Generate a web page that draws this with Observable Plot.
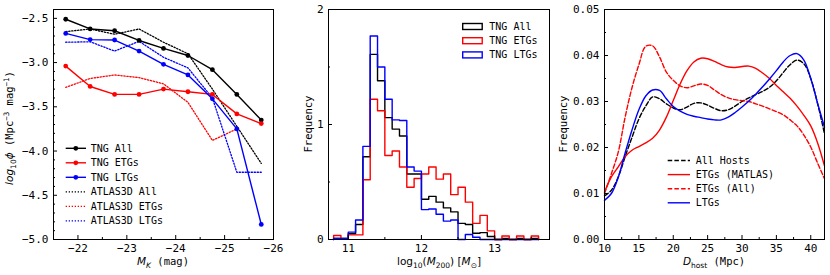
<!DOCTYPE html>
<html><head><meta charset="utf-8">
<script src="https://cdn.jsdelivr.net/npm/d3@7"></script>
<script src="https://cdn.jsdelivr.net/npm/@observablehq/plot@0.6"></script>
<style>
body{margin:0;background:#fff}
#wrap{position:relative;width:830px;height:275px;overflow:hidden;background:#fff}
#wrap svg{position:absolute;top:0}
</style></head><body><div id="wrap"></div>
<script>
// ---------- Panel 1: luminosity function ----------
const magK = [-21.75,-22.25,-22.75,-23.25,-23.75,-24.25,-24.75,-25.25,-25.75];
const tngAll = [-2.51,-2.62,-2.64,-2.75,-2.84,-2.92,-3.08,-3.36,-3.65];
const tngETG = [-3.04,-3.27,-3.36,-3.36,-3.30,-3.33,-3.36,-3.58,-3.69];
const tngLTG = [-2.67,-2.74,-2.745,-2.87,-3.02,-3.14,-3.41,-3.75,-4.83];
const atlasAll = [-2.65,-2.62,-2.68,-2.62,-2.77,-2.90,-3.30,-3.72,-4.14];
const atlasETG = [-3.28,-3.18,-3.14,-3.17,-3.24,-3.45,-3.88,-3.75,null];
const atlasLTG = [-2.77,-2.765,-2.87,-2.76,-2.94,-3.06,-3.40,-4.24,-4.24];
const lfSeries = ["TNG All","TNG ETGs","TNG LTGs","ATLAS3D All","ATLAS3D ETGs","ATLAS3D LTGs"];
const magTicks = [-22,-23,-24,-25,-26];
const phiTicks = [-2.5,-3.0,-3.5,-4.0,-4.5,-5.0];

// ---------- Panel 2: halo mass histograms ----------
const massEdges = [10.8,10.9,11.0,11.1,11.2,11.3,11.4,11.5,11.6,11.7,11.8,11.9,12.0,12.1,12.2,12.3,12.4,12.5,12.6,12.7,12.8,12.9,13.0,13.1,13.2,13.3,13.4,13.5,13.6];
const histAll = [0.01,0.01,0.05,0.13,0.72,1.61,1.38,1.06,0.96,0.90,0.57,0.57,0.35,0.375,0.325,0.275,0.24,0.14,0.13,0.055,0.06,0.026,0,0.01,0,0.01,0,0.01];
const histETG = [0.035,0.005,0.04,0.04,0.52,1.22,1.12,0.73,0.77,0.63,0.455,0.53,0.57,0.63,0.525,0.57,0.39,0.455,0.325,0.14,0.21,0.075,0,0.03,0,0.03,0,0.03];
const histLTG = [0.01,0.01,0.064,0.17,0.81,1.77,1.50,1.22,1.04,1.035,0.63,0.595,0.26,0.265,0.22,0.16,0.17,0,0.043,0.02,0,0,0,0,0,0,0,0];
const histSeries = ["TNG All","TNG ETGs","TNG LTGs"];
const massTicks = [11,12,13];
const freqTicks = [0,1,2];

// ---------- Panel 3: host distance KDEs ----------
const dist = [10,11,12,13,14,15,16,17,18,19,20,21,22,23,24,25,26,27,28,29,30,31,32,33,34,35,36,37,38,39,40,41,42];
const kdeAll = [0.0095,0.0107,0.0136,0.018,0.0222,0.0262,0.029,0.031,0.0306,0.0295,0.0286,0.0282,0.0288,0.0296,0.0297,0.0292,0.0285,0.028,0.0282,0.029,0.0300,0.0308,0.0315,0.0322,0.0331,0.0345,0.0363,0.038,0.039,0.0382,0.035,0.0295,0.023];
const kdeETGm = [0.0103,0.0136,0.0158,0.018,0.0194,0.0202,0.021,0.022,0.0238,0.0266,0.0302,0.0338,0.0367,0.0386,0.0394,0.0393,0.0387,0.038,0.0375,0.0374,0.0376,0.0377,0.0372,0.0362,0.035,0.0335,0.0321,0.0307,0.029,0.027,0.0247,0.021,0.016];
const kdeETGa = [0.0100,0.0143,0.019,0.0266,0.033,0.038,0.042,0.0421,0.0397,0.0364,0.0346,0.0334,0.033,0.0334,0.0338,0.0335,0.0325,0.0315,0.0308,0.0304,0.0302,0.030,0.0295,0.029,0.0284,0.0278,0.0271,0.026,0.0247,0.0227,0.0201,0.0166,0.0132];
const kdeLTG = [0.0085,0.0100,0.0135,0.0188,0.0238,0.0282,0.0312,0.0325,0.0324,0.0306,0.0289,0.0279,0.0272,0.0268,0.0265,0.0262,0.026,0.026,0.0266,0.0276,0.0288,0.0301,0.0316,0.0332,0.0349,0.0367,0.0386,0.04,0.0404,0.039,0.0350,0.0296,0.0244];
const kdeSeries = ["All Hosts","ETGs (MATLAS)","ETGs (All)","LTGs"];
const distTicks = [10,15,20,25,30,35,40];
const kdeTicks = [0.00,0.01,0.02,0.03,0.04,0.05];

const MONO = "DejaVu Sans Mono", SANS = "DejaVu Sans";
const style = {fontFamily: MONO, fontSize: "11px", background: "none", overflow: "visible"};
const wrap = document.getElementById("wrap");
const DOT = "1.3,1.7";
const DASH = "4.5,2.2";

function rows(xs, ys, name) {
  return xs.map((x, i) => ({x, y: ys[i], s: name})).filter(d => d.y != null);
}
function stepRows(edges, vals, name) {
  const pts = [{x: edges[0], y: 0, s: name}];
  vals.forEach((v, i) => { pts.push({x: edges[i], y: v, s: name}); pts.push({x: edges[i + 1], y: v, s: name}); });
  pts.push({x: edges[vals.length], y: 0, s: name});
  return pts;
}
function axes(xMajor, xMinor, yMajor, yMinor, xfmt, yfmt) {
  return [
    Plot.axisX(xMajor, {tickSize: -4, tickPadding: 8.5, tickFormat: xfmt, label: null, fontSize: 11}),
    Plot.axisX(xMinor, {tickSize: -2, tickFormat: () => "", label: null}),
    Plot.axisY(yMajor, {tickSize: -4, tickPadding: 9, tickFormat: yfmt, label: null, fontSize: 11}),
    Plot.axisY(yMinor, {tickSize: -2, tickFormat: () => "", label: null}),
    Plot.frame({stroke: "black", strokeWidth: 1})
  ];
}
function minorBetween(lo, hi, step, majors) {
  const out = [];
  for (let v = lo; v <= hi + 1e-9; v += step) {
    const r = +v.toFixed(6);
    if (!majors.some(m => Math.abs(m - r) < 1e-9)) out.push(r);
  }
  return out;
}

// ---------------- Panel 3 ----------------
const kdeColors = ["black","red","red","blue"];
const kdeDash = [DASH, null, DASH, null];
const kdeData = [kdeAll, kdeETGm, kdeETGa, kdeLTG].map((a, i) => rows(dist, a, kdeSeries[i]));
const p3 = Plot.plot({
  width: 275, height: 275, marginLeft: 49, marginRight: 6, marginTop: 9, marginBottom: 36,
  style,
  x: {domain: [10, 42]},
  y: {domain: [0, 0.05]},
  marks: [
    ...[0,1,2,3].map(i => Plot.line(kdeData[i], {x: "x", y: "y", stroke: kdeColors[i], strokeWidth: 1.4, strokeDasharray: kdeDash[i], curve: "catmull-rom"})),
    ...axes(distTicks, [12.5,17.5,22.5,27.5,32.5,37.5], kdeTicks, [0.005,0.015,0.025,0.035,0.045], d3.format("d"), d3.format(".2f"))
  ]
});
p3.style.left = "555px";
wrap.appendChild(p3);

// ---------------- Panel 2 ----------------
const histColors = ["black","red","blue"];
const histData = [histAll, histETG, histLTG].map((a, i) => stepRows(massEdges, a, histSeries[i]));
const p2 = Plot.plot({
  width: 275, height: 275, marginLeft: 48, marginRight: 6, marginTop: 9, marginBottom: 36,
  style,
  x: {domain: [10.73, 13.75]},
  y: {domain: [0, 2]},
  marks: [
    ...[0,1,2].map(i => Plot.line(histData[i], {x: "x", y: "y", stroke: histColors[i], strokeWidth: 1.4})),
    ...axes(massTicks, [11.5,12.5,13.5], freqTicks, [0.5,1.5], d3.format("d"), d3.format("d"))
  ]
});
p2.style.left = "280px";
wrap.appendChild(p2);

// ---------------- Panel 1 ----------------
const lfColors = ["black","red","blue","black","red","blue"];
const lfData = [tngAll, tngETG, tngLTG, atlasAll, atlasETG, atlasLTG].map((a, i) => rows(magK, a, lfSeries[i]));
const p1 = Plot.plot({
  width: 280, height: 275, marginLeft: 53, marginRight: 7, marginTop: 9, marginBottom: 36,
  style,
  x: {domain: [-21.5, -26]},
  y: {domain: [-5, -2.4]},
  marks: [
    ...[3,4,5].map(i => Plot.line(lfData[i], {x: "x", y: "y", stroke: lfColors[i], strokeWidth: 1.3, strokeDasharray: DOT})),
    ...[0,1,2].map(i => Plot.line(lfData[i], {x: "x", y: "y", stroke: lfColors[i], strokeWidth: 1.4})),
    ...[0,1,2].map(i => Plot.dot(lfData[i], {x: "x", y: "y", fill: lfColors[i], r: 2.4})),
    ...axes(magTicks, [-22.5,-23.5,-24.5,-25.5], phiTicks, minorBetween(-5, -2.4, 0.1, phiTicks), d3.format("d"), d3.format(".1f"))
  ]
});
p1.style.left = "0px";
wrap.appendChild(p1);

// ---------------- Labels ----------------
function richText(svg, x, y, parts, opts = {}) {
  const t = d3.select(svg).append("text")
    .attr("text-anchor", "middle").attr("font-size", opts.size || 10.5).attr("fill", "black")
    .attr("transform", `translate(${x},${y})` + (opts.rotate ? " rotate(-90)" : ""));
  parts.forEach(p => {
    const s = t.append("tspan").text(p.t).attr("font-family", p.mono ? MONO : SANS);
    if (p.i) s.attr("font-style", "italic");
    if (p.sz) s.attr("font-size", p.sz);
    if (p.dy) s.attr("dy", p.dy);
  });
  return t;
}
richText(p1, 13, 128, [
  {t: "log", i: 1}, {t: "10", sz: 7.5, dy: 2.5}, {t: "\u03d5", i: 1, dy: -2.5},
  {t: " (Mpc", mono: 1}, {t: "\u22123", sz: 7.5, dy: -4, mono: 1}, {t: " mag", mono: 1, dy: 4},
  {t: "\u22121", sz: 7.5, dy: -4, mono: 1}, {t: ")", mono: 1, dy: 4}
], {rotate: true});
richText(p1, 163, 265, [
  {t: "M", i: 1}, {t: "K", i: 1, sz: 7.5, dy: 2.5}, {t: " (mag)", mono: 1, dy: -2.5}
]);
richText(p2, 32, 124, [{t: "Frequency", mono: 1}], {rotate: true});
richText(p2, 159, 265, [
  {t: "log"}, {t: "10", sz: 7.5, dy: 2.5}, {t: "(", dy: -2.5}, {t: "M", i: 1},
  {t: "200", sz: 7.5, dy: 2.5}, {t: ") [", dy: -2.5}, {t: "M", i: 1}, {t: "\u2299", sz: 7.5, dy: 2.5}, {t: "]", dy: -2.5}
]);
richText(p3, 12, 124, [{t: "Frequency", mono: 1}], {rotate: true});
richText(p3, 159, 265, [
  {t: "D", i: 1}, {t: "host", sz: 7.5, dy: 2.5}, {t: " (Mpc)", mono: 1, dy: -2.5}
]);

// ---------------- Legends ----------------
function legendText(g, x, y, s) {
  g.append("text").attr("x", x).attr("y", y).attr("dy", "0.35em").attr("font-family", MONO)
    .attr("text-anchor", "start").attr("font-size", 10).attr("fill", "black").text(s);
}
{
  const g = d3.select(p1).append("g");
  lfSeries.forEach((s, i) => {
    const y = 148.3 + i * 14.5;
    g.append("line").attr("x1", 65.7).attr("x2", 86).attr("y1", y).attr("y2", y)
      .attr("stroke", lfColors[i]).attr("stroke-width", i < 3 ? 1.4 : 1.3)
      .attr("stroke-dasharray", i < 3 ? null : DOT);
    if (i < 3) g.append("circle").attr("cx", 75.8).attr("cy", y).attr("r", 2.4).attr("fill", lfColors[i]);
    legendText(g, 90.7, y, s);
  });
}
{
  const g = d3.select(p2).append("g");
  histSeries.forEach((s, i) => {
    const y = 26.5 + i * 14.2;
    g.append("rect").attr("x", 182.7).attr("y", y - 3).attr("width", 19.5).attr("height", 6)
      .attr("fill", "none").attr("stroke", histColors[i]).attr("stroke-width", 1.4);
    legendText(g, 209.3, y, s);
  });
}
{
  const g = d3.select(p3).append("g");
  kdeSeries.forEach((s, i) => {
    const y = 160.5 + i * 14.1;
    g.append("line").attr("x1", 112.7).attr("x2", 135).attr("y1", y).attr("y2", y)
      .attr("stroke", kdeColors[i]).attr("stroke-width", 1.4).attr("stroke-dasharray", kdeDash[i]);
    legendText(g, 140.7, y, s);
  });
}
</script></body></html>
